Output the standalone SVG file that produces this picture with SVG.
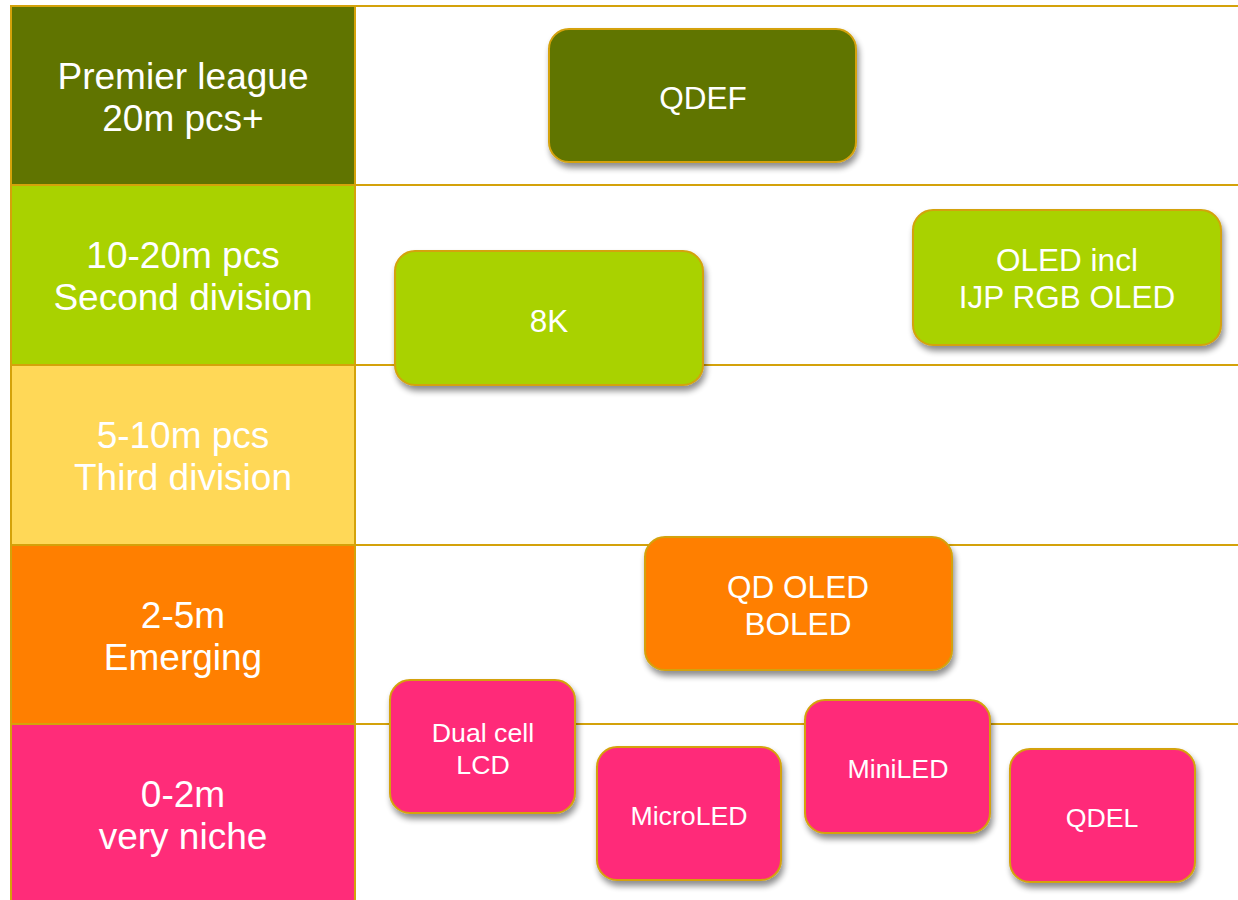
<svg xmlns="http://www.w3.org/2000/svg" width="1238" height="900" viewBox="0 0 1238 900">
<defs>
<filter id="sh" x="-10%" y="-10%" width="130%" height="135%">
<feGaussianBlur in="SourceAlpha" stdDeviation="3"/>
<feOffset dx="2" dy="5" result="b"/>
<feComponentTransfer><feFuncA type="linear" slope="0.45"/></feComponentTransfer>
<feMerge><feMergeNode/><feMergeNode in="SourceGraphic"/></feMerge>
</filter>
</defs>
<style>
.cell{stroke:#D4A20A;stroke-width:2}
.grid{stroke:#D4A20A;stroke-width:2;fill:none}
.box{stroke:#D4A20A;stroke-width:2;filter:url(#sh)}
.lt{font-family:"Liberation Sans",Arial,sans-serif;font-size:37px;fill:#fff;text-anchor:middle}
.bt{font-family:"Liberation Sans",Arial,sans-serif;font-size:31.5px;fill:#fff;text-anchor:middle}
.st{font-family:"Liberation Sans",Arial,sans-serif;font-size:26.7px;fill:#fff;text-anchor:middle}
</style>
<rect width="1238" height="900" fill="#fff"/>
<g id="grid">
<line class="grid" x1="355" y1="6" x2="1238" y2="6"/>
<line class="grid" x1="355" y1="185" x2="1238" y2="185"/>
<line class="grid" x1="355" y1="365" x2="1238" y2="365"/>
<line class="grid" x1="355" y1="545" x2="1238" y2="545"/>
<line class="grid" x1="355" y1="724" x2="1238" y2="724"/>
<line class="grid" x1="355" y1="6" x2="355" y2="900"/>
</g>
<g id="row1"><rect class="cell" x="11" y="6" width="344" height="179" fill="#607400"/>
<text class="lt" x="183" y="89">Premier league</text><text class="lt" x="183" y="131">20m pcs+</text></g>
<g id="row2"><rect class="cell" x="11" y="185" width="344" height="180" fill="#A9D200"/>
<text class="lt" x="183" y="268">10-20m pcs</text><text class="lt" x="183" y="310">Second division</text></g>
<g id="row3"><rect class="cell" x="11" y="365" width="344" height="180" fill="#FFD857"/>
<text class="lt" x="183" y="448">5-10m pcs</text><text class="lt" x="183" y="490">Third division</text></g>
<g id="row4"><rect class="cell" x="11" y="545" width="344" height="179" fill="#FF7F00"/>
<text class="lt" x="183" y="628">2-5m</text><text class="lt" x="183" y="670">Emerging</text></g>
<g id="row5"><rect class="cell" x="11" y="724" width="344" height="180" fill="#FF2C79"/>
<text class="lt" x="183" y="807">0-2m</text><text class="lt" x="183" y="849">very niche</text></g>
<g id="qdef"><rect class="box" x="549" y="29" width="307" height="133" rx="20" fill="#607400"/>
<text class="bt" x="703" y="109">QDEF</text></g>
<g id="k8"><rect class="box" x="395" y="251" width="308" height="134" rx="20" fill="#A9D200"/>
<text class="bt" x="549" y="332">8K</text></g>
<g id="oled"><rect class="box" x="913" y="210" width="308" height="135" rx="20" fill="#A9D200"/>
<text class="bt" x="1067" y="271">OLED incl</text><text class="bt" x="1067" y="308">IJP RGB OLED</text></g>
<g id="qdoled"><rect class="box" x="645" y="537" width="307" height="133" rx="20" fill="#FF7F00"/>
<text class="bt" x="798" y="598">QD OLED</text><text class="bt" x="798" y="635">BOLED</text></g>
<g id="dualcell"><rect class="box" x="390" y="680" width="185" height="133" rx="20" fill="#FF2C79"/>
<text class="st" x="483" y="742">Dual cell</text><text class="st" x="483" y="774">LCD</text></g>
<g id="microled"><rect class="box" x="597" y="747" width="184" height="133" rx="20" fill="#FF2C79"/>
<text class="st" x="689" y="825">MicroLED</text></g>
<g id="miniled"><rect class="box" x="805" y="700" width="185" height="133" rx="20" fill="#FF2C79"/>
<text class="st" x="898" y="778">MiniLED</text></g>
<g id="qdel"><rect class="box" x="1010" y="749" width="185" height="133" rx="20" fill="#FF2C79"/>
<text class="st" x="1102" y="827">QDEL</text></g>
</svg>
